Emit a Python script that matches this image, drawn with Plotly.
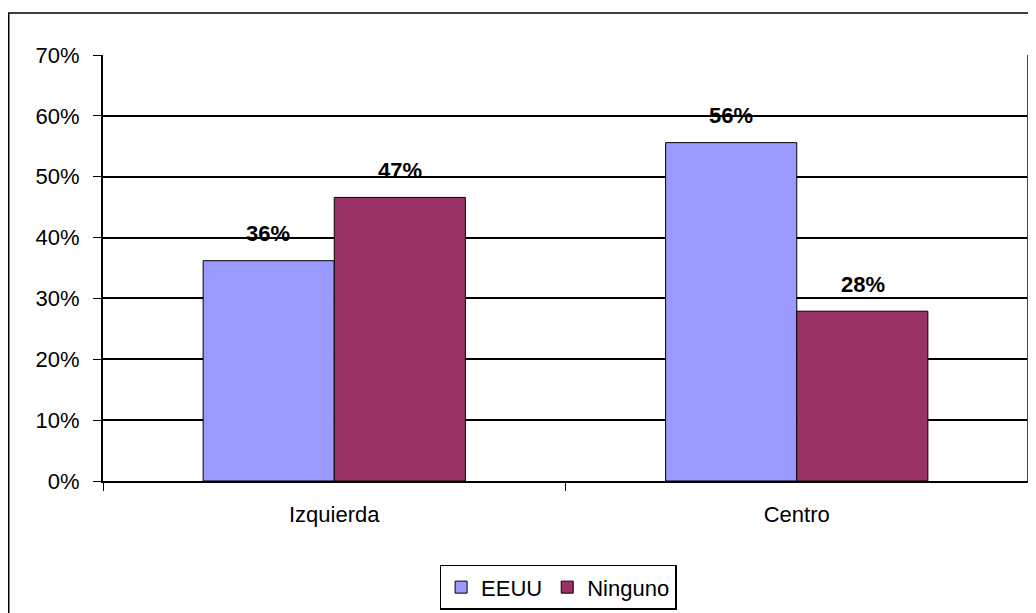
import plotly.graph_objects as go

categories = ["Izquierda", "Centro"]
eeuu = [0.362, 0.556]
ninguno = [0.466, 0.279]
y_ticks = [0, 0.1, 0.2, 0.3, 0.4, 0.5, 0.6, 0.7]

font = "Liberation Sans, Arial, sans-serif"

fig = go.Figure()
fig.add_trace(go.Bar(
    x=categories, y=eeuu, name="EEUU",
    marker=dict(color="#9999FF", line=dict(color="black", width=1)),
))
fig.add_trace(go.Bar(
    x=categories, y=ninguno, name="Ninguno",
    marker=dict(color="#993366", line=dict(color="black", width=1)),
))

# data labels above each bar
for vals, shift in ((eeuu, -66), (ninguno, 66)):
    for cat, v in zip(categories, vals):
        fig.add_annotation(
            x=cat, y=v, xshift=shift, yshift=27, text=f"{v:.0%}",
            showarrow=False, yanchor="middle",
            font=dict(family=font, size=22, color="black", weight="bold"),
        )

# outer chart frame (page body margin of 8px is taken into account)
fig.add_shape(type="rect", xref="paper", yref="paper",
              x0=-0.1019, x1=1.03, y0=-0.4, y1=1.0984,
              line=dict(color="black", width=1.5), layer="below")

fig.update_layout(
    width=1036, height=613,
    margin=dict(l=95, r=16, t=47, b=139),
    paper_bgcolor="white", plot_bgcolor="white",
    barmode="group", bargap=0.433, bargroupgap=0,
    font=dict(family=font, size=22, color="black"),
    showlegend=True,
    legend=dict(
        orientation="h", x=0.492, xanchor="center", y=-0.194, yanchor="top",
        bordercolor="black", borderwidth=1.5, font=dict(size=22),
        itemwidth=30, traceorder="normal",
    ),
    xaxis=dict(
        tickson="boundaries", ticks="outside", ticklen=8, tickcolor="black",
        showline=True, linecolor="black", linewidth=2, mirror=False,
        showgrid=False, tickfont=dict(size=22), ticklabelstandoff=13,
    ),
    yaxis=dict(
        range=[0, 0.7], tickvals=y_ticks, tickformat=".0%",
        ticks="outside", ticklen=8, tickcolor="black",
        showline=True, linecolor="black", linewidth=2,
        showgrid=True, gridcolor="black", gridwidth=1.5,
        zeroline=False, tickfont=dict(size=22), ticklabelstandoff=9,
    ),
)

# right border of plot area
fig.add_shape(type="line", xref="paper", yref="paper", x0=1, x1=1, y0=0, y1=1,
              line=dict(color="#444", width=2))

fig.write_html("out.html")
